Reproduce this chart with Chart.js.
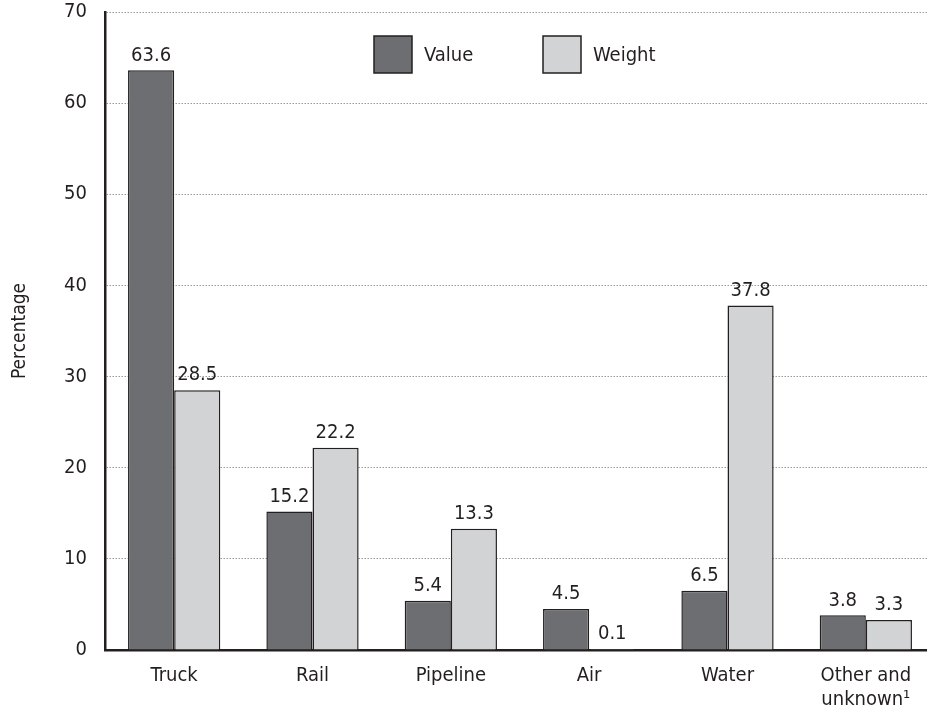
<!DOCTYPE html>
<html>
<head>
<meta charset="utf-8">
<script src="https://cdn.jsdelivr.net/npm/chart.js@4"></script>
<style>
  html, body { margin: 0; padding: 0; background: #fff; overflow: hidden; }
  #wrap { width: 940px; height: 719px; }
</style>
</head>
<body>
<div id="wrap"><canvas id="chart" width="940" height="719"></canvas></div>
<script>
const categories = ["Truck", "Rail", "Pipeline", "Air", "Water", ["Other and", "unknown\u00b9"]];
const valueShare = [63.6, 15.2, 5.4, 4.5, 6.5, 3.8];
const weightShare = [28.5, 22.2, 13.3, 0.1, 37.8, 3.3];
const yTicks = [0, 10, 20, 30, 40, 50, 60, 70];

const FONT = "'Liberation Sans Narrow', 'DejaVu Sans Condensed', sans-serif";
const INK = "#231f20";

// value labels above each bar
const barLabels = {
  id: "barLabels",
  afterDatasetsDraw(chart) {
    const ctx = chart.ctx;
    ctx.save();
    ctx.font = "20px " + FONT;
    ctx.fillStyle = INK;
    ctx.textAlign = "center";
    ctx.textBaseline = "bottom";
    chart.data.datasets.forEach((ds, i) => {
      chart.getDatasetMeta(i).data.forEach((bar, j) => {
        ctx.fillText(ds.data[j].toFixed(1), bar.x, bar.y - 5);
      });
    });
    ctx.restore();
  }
};

// legend drawn inside the plot area
const innerLegend = {
  id: "innerLegend",
  afterDraw(chart) {
    const ctx = chart.ctx;
    const xs = [374, 543];
    ctx.save();
    ctx.font = "20px " + FONT;
    ctx.textBaseline = "middle";
    chart.data.datasets.forEach((ds, i) => {
      ctx.fillStyle = ds.backgroundColor;
      ctx.fillRect(xs[i], 36, 38, 37);
      ctx.strokeStyle = INK;
      ctx.lineWidth = 1.5;
      ctx.strokeRect(xs[i], 36, 38, 37);
      ctx.fillStyle = INK;
      ctx.fillText(ds.label, xs[i] + 50, 56);
    });
    ctx.restore();
  }
};

new Chart(document.getElementById("chart"), {
  type: "bar",
  data: {
    labels: categories,
    datasets: [
      { label: "Value", data: valueShare, backgroundColor: "#6d6e71", borderColor: INK, borderWidth: 1.5 },
      { label: "Weight", data: weightShare, backgroundColor: "#d1d3d4", borderColor: INK, borderWidth: 1.5 }
    ]
  },
  options: {
    responsive: false,
    animation: false,
    events: [],
    layout: { padding: { top: 12, right: 5, left: 0, bottom: 0 } },
    datasets: { bar: { categoryPercentage: 0.667, barPercentage: 1 } },
    plugins: { legend: { display: false }, tooltip: { enabled: false } },
    scales: {
      x: {
        grid: { display: false, drawTicks: false },
        border: { color: INK, width: 2.5 },
        ticks: { color: INK, font: { family: FONT, size: 20 }, padding: 14 },
        afterFit(scale) {
          scale.height = 69;
          scale.paddingLeft = 0;
          scale.paddingRight = 0;
        }
      },
      y: {
        min: 0,
        max: 70,
        afterBuildTicks(scale) { scale.ticks = yTicks.map(v => ({ value: v })); },
        grid: {
          drawTicks: false,
          color: ctx => ctx.tick && ctx.tick.value === 0 ? "rgba(0,0,0,0)" : "#9a9a9a",
          lineWidth: 1
        },
        border: { color: INK, width: 2.5, dash: [1.5, 1.5] },
        ticks: { color: INK, font: { family: FONT, size: 20 }, padding: 18 },
        title: { display: true, text: "Percentage", color: INK, font: { family: FONT, size: 19 }, padding: { top: 9, bottom: 0 } },
        afterFit(scale) {
          scale.width = 105;
          scale.paddingTop = 0;
          scale.paddingBottom = 0;
        }
      }
    }
  },
  plugins: [barLabels, innerLegend]
});
</script>
</body>
</html>
